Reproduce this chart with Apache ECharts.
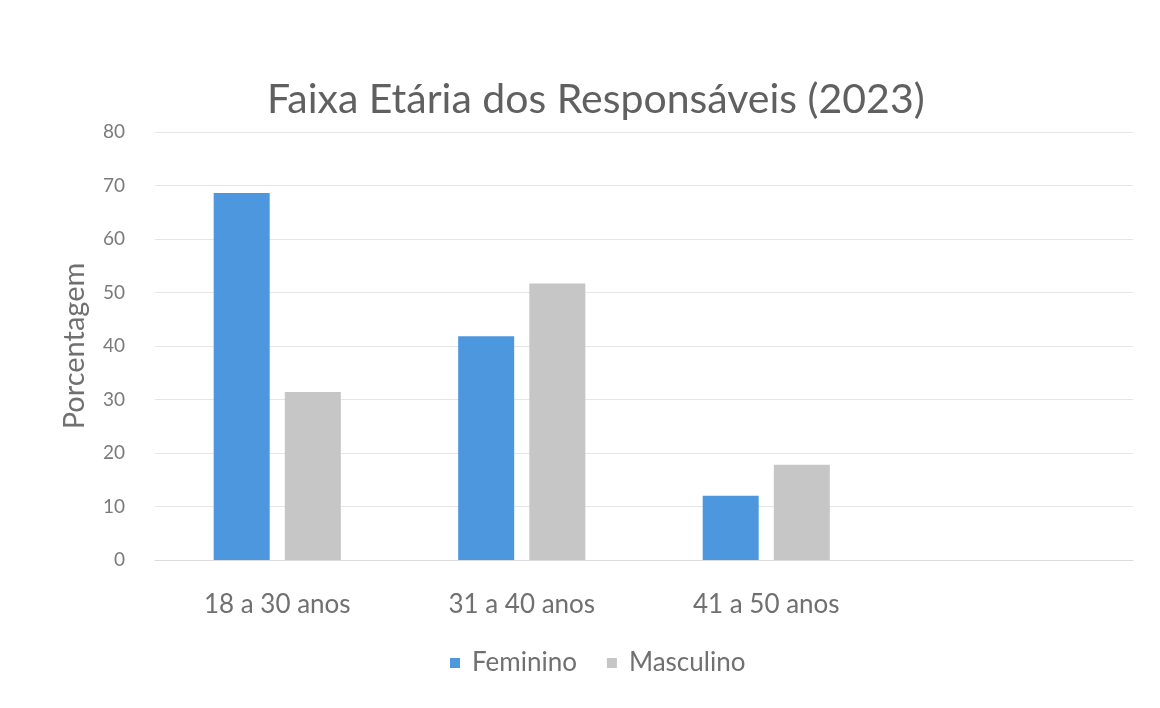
<!DOCTYPE html>
<html>
<head>
<meta charset="utf-8">
<script src="https://cdn.jsdelivr.net/npm/echarts@6/dist/echarts.min.js"></script>
<style>
    html, body { margin: 0; padding: 0; background: #fff; }
    #chart { width: 1160px; height: 708px; }
</style>
</head>
<body>
<div id="chart"></div>
<script>
    // data
    var categories = ['18 a 30 anos', '31 a 40 anos', '41 a 50 anos', ''];
    var feminino = [68.6, 41.8, 12.0, null];
    var masculino = [31.4, 51.7, 17.8, null];
    var yTicks = [0, 10, 20, 30, 40, 50, 60, 70, 80];

    var textColor = '#707070';
    var fontName = 'Lato';

    var chart = echarts.init(document.getElementById('chart'));
    chart.setOption({
        backgroundColor: '#fff',
        animation: false,
        title: {
            text: 'Faixa Etária dos Responsáveis (2023)',
            left: 262,
            top: 74,
            textStyle: { fontFamily: fontName, fontSize: 41, fontWeight: 'normal', color: '#606060' }
        },
        legend: {
            top: 645,
            left: 445,
            itemWidth: 10,
            itemHeight: 10,
            itemGap: 30,
            icon: 'rect',
            textStyle: { fontFamily: fontName, fontSize: 26, color: textColor, padding: [0, 0, 0, 7] }
        },
        grid: { left: 155, right: 27, top: 132, bottom: 148 },
        xAxis: {
            type: 'category',
            data: categories,
            axisLine: { show: true, lineStyle: { color: '#dcdcdc' } },
            axisTick: { show: false },
            axisLabel: { fontFamily: fontName, fontSize: 26, color: textColor, margin: 32 }
        },
        yAxis: {
            type: 'value',
            min: yTicks[0],
            max: yTicks[yTicks.length - 1],
            interval: 10,
            name: 'Porcentagem',
            nameLocation: 'middle',
            nameGap: 66,
            nameTextStyle: { fontFamily: fontName, fontSize: 29, color: textColor },
            axisLine: { show: false },
            axisTick: { show: false },
            axisLabel: { fontFamily: fontName, fontSize: 19, color: '#7a7a7a', margin: 30 },
            splitLine: { lineStyle: { color: '#e6e6e6' } }
        },
        series: [{
            name: 'Feminino',
            type: 'bar',
            data: feminino,
            barGap: '27%',
            barCategoryGap: '48%',
            itemStyle: { color: '#4d97de' }
        }, {
            name: 'Masculino',
            type: 'bar',
            data: masculino,
            itemStyle: { color: '#c6c6c6' }
        }]
    });
</script>
</body>
</html>
